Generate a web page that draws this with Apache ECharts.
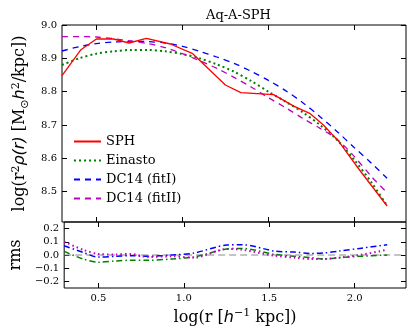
<!DOCTYPE html>
<html><head><meta charset="utf-8">
<script src="https://cdn.jsdelivr.net/npm/echarts@6.0.0/dist/echarts.min.js"></script>
<style>html,body{margin:0;padding:0;background:#fff;}#c{width:415px;height:336px;}</style>
</head><body><div id="c"></div>
<script>
// ---- data ----
const sphX = [0.30,0.41,0.50,0.60,0.69,0.79,0.93,1.06,1.25,1.34,1.53,1.65,1.74,1.82,1.91,2.03,2.19];
const sphY = [8.848,8.926,8.958,8.958,8.946,8.960,8.943,8.914,8.820,8.797,8.791,8.756,8.735,8.700,8.650,8.565,8.457];

const fitX = [0.30,0.40,0.50,0.60,0.70,0.80,0.90,1.00,1.10,1.20,1.30,1.40,1.50,1.60,1.70,1.80,1.90,2.00,2.10,2.19];
const einastoY = [8.880,8.900,8.914,8.921,8.925,8.925,8.921,8.913,8.900,8.882,8.860,8.832,8.800,8.770,8.738,8.700,8.655,8.595,8.527,8.458];
const dc14IY   = [8.922,8.935,8.944,8.949,8.951,8.950,8.946,8.936,8.921,8.904,8.885,8.861,8.834,8.803,8.767,8.725,8.680,8.632,8.585,8.540];
const dc14IIY  = [8.965,8.965,8.964,8.959,8.952,8.944,8.932,8.914,8.893,8.870,8.843,8.814,8.782,8.752,8.720,8.690,8.657,8.605,8.545,8.497];

const rmsX = [0.30,0.41,0.50,0.60,0.69,0.79,0.93,1.06,1.25,1.34,1.53,1.65,1.74,1.82,1.91,2.03,2.19];
const rmsEinasto = [0.027,-0.030,-0.055,-0.045,-0.040,-0.040,-0.030,-0.015,0.045,0.050,0.005,-0.010,-0.020,-0.030,-0.020,-0.010,0.000];
const rmsDC14I   = [0.070,0.020,-0.016,-0.010,-0.005,-0.010,0.000,0.015,0.075,0.078,0.030,0.022,0.012,0.015,0.030,0.050,0.078];
const rmsDC14II  = [0.100,0.040,0.008,0.004,0.008,-0.015,-0.010,-0.020,0.045,0.040,-0.005,-0.020,-0.030,-0.030,-0.020,0.000,0.040];

const xTicks = [0.5,1.0,1.5,2.0];
const yTicksTop = [8.5,8.6,8.7,8.8,8.9,9.0];
const yTicksBottom = [-0.2,-0.1,0.0,0.1,0.2];
const seriesNames = ['SPH','Einasto','DC14 (fitI)','DC14 (fitII)'];

// ---- chart ----
const pair = (xs, ys) => xs.map((x, i) => [x, ys[i]]);
const SERIF = 'DejaVu Serif';
const fmt = v => (v < 0 ? '\u2212' : '') + Math.abs(v).toFixed(1);

function xAx(grid, pos, showLabels, extra) {
  return Object.assign({
    type: 'value', gridIndex: grid, position: pos, min: 0.3, max: 2.3,
    axisLine: {show: false, onZero: false}, splitLine: {show: false},
    axisTick: {show: true, inside: true, length: 5, customValues: xTicks, lineStyle: {color: '#000', width: 1}},
    axisLabel: {show: showLabels, customValues: xTicks, formatter: fmt, fontFamily: SERIF, fontSize: 10, color: '#000', margin: 5}
  }, extra || {});
}
function yAx(grid, pos, min, max, ticks, showLabels, extra) {
  return Object.assign({
    type: 'value', gridIndex: grid, position: pos, min: min, max: max,
    axisLine: {show: false, onZero: false}, splitLine: {show: false},
    axisTick: {show: true, inside: true, length: 5, customValues: ticks, lineStyle: {color: '#000', width: 1}},
    axisLabel: {show: showLabels, customValues: ticks, formatter: fmt, fontFamily: SERIF, fontSize: 10, color: '#000', margin: 5}
  }, extra || {});
}

const richBase = {
  n: {fontFamily: SERIF, fontSize: 16, color: '#000', lineHeight: 20},
  i: {fontFamily: 'DejaVu Sans', fontStyle: 'italic', fontSize: 16, color: '#000', lineHeight: 20},
  sup: {fontFamily: SERIF, fontSize: 11, color: '#000', lineHeight: 10, verticalAlign: 'top'},
  sub: {fontFamily: 'DejaVu Sans', fontSize: 11, color: '#000', lineHeight: 10, verticalAlign: 'bottom'}
};

const chart = echarts.init(document.getElementById('c'), null, {renderer: 'canvas', width: 415, height: 336});
chart.setOption({
  animation: false,
  backgroundColor: '#fff',
  title: {text: 'Aq-A-SPH', left: 201, top: 4, textStyle: {fontFamily: SERIF, fontSize: 13, fontWeight: 'normal', color: '#000'}},
  grid: [
    {left: 62, top: 25, width: 344, height: 197, show: true, borderColor: '#000', borderWidth: 1, backgroundColor: 'transparent'},
    {left: 62, top: 222, width: 344, height: 66, show: true, borderColor: '#000', borderWidth: 1, backgroundColor: 'transparent'}
  ],
  xAxis: [
    xAx(0, 'bottom', false),
    xAx(0, 'top', false),
    xAx(1, 'bottom', true, {
      name: '{n|log(r [}{i|h}{sup|\u22121}{n| kpc])}', nameLocation: 'middle', nameGap: 20,
      nameTextStyle: {rich: richBase}
    }),
    xAx(1, 'top', false)
  ],
  yAxis: [
    yAx(0, 'left', 8.409, 9.0, yTicksTop, true, {
      name: '{n|log(r}{sup|2}{i|\u03c1(r)}{n| [M}{sub|\u2299}{i|h}{sup|2}{n|/kpc])}',
      nameLocation: 'middle', nameGap: 24, nameRotate: 90,
      nameTextStyle: {rich: richBase}
    }),
    yAx(0, 'right', 8.409, 9.0, yTicksTop, false),
    yAx(1, 'left', -0.25, 0.25, yTicksBottom, true, {
      name: 'rms', nameLocation: 'middle', nameGap: 37, nameRotate: 90,
      nameTextStyle: {fontFamily: SERIF, fontSize: 16, color: '#000'}
    }),
    yAx(1, 'right', -0.25, 0.25, yTicksBottom, false)
  ],
  legend: {
    data: seriesNames, orient: 'vertical', left: 73, top: 135, padding: 0,
    itemWidth: 27, itemHeight: 14, itemGap: 6, selectedMode: false,
    itemStyle: {opacity: 0, borderWidth: 0},
    textStyle: {fontFamily: SERIF, fontSize: 13, color: '#000'}
  },
  series: [
    {name: 'zero', type: 'line', xAxisIndex: 2, yAxisIndex: 2, data: [[0.3, 0], [2.3, 0]], symbol: 'none', z: 1,
     lineStyle: {color: '#888', width: 1, type: [7, 4]}},
    {name: seriesNames[0], type: 'line', xAxisIndex: 0, yAxisIndex: 0, data: pair(sphX, sphY), symbol: 'none', z: 5,
     lineStyle: {color: '#ff0000', width: 1.3}, itemStyle: {color: '#ff0000'}},
    {name: seriesNames[1], type: 'line', xAxisIndex: 0, yAxisIndex: 0, data: pair(fitX, einastoY), symbol: 'none', smooth: 0.3,
     lineStyle: {color: '#008000', width: 2, type: [2, 3]}, itemStyle: {color: '#008000'}},
    {name: seriesNames[2], type: 'line', xAxisIndex: 0, yAxisIndex: 0, data: pair(fitX, dc14IY), symbol: 'none', smooth: 0.3,
     lineStyle: {color: '#0000ff', width: 1.3, type: [6, 5]}, itemStyle: {color: '#0000ff'}},
    {name: seriesNames[3], type: 'line', xAxisIndex: 0, yAxisIndex: 0, data: pair(fitX, dc14IIY), symbol: 'none', smooth: 0.3,
     lineStyle: {color: '#bf00bf', width: 1.3, type: [6, 5]}, itemStyle: {color: '#bf00bf'}},
    {name: 'rms Einasto', type: 'line', xAxisIndex: 2, yAxisIndex: 2, data: pair(rmsX, rmsEinasto), symbol: 'none', smooth: 0.3,
     lineStyle: {color: '#008000', width: 1.5, type: [6, 3, 1.5, 3]}},
    {name: 'rms DC14 (fitI)', type: 'line', xAxisIndex: 2, yAxisIndex: 2, data: pair(rmsX, rmsDC14I), symbol: 'none', smooth: 0.3,
     lineStyle: {color: '#0000ff', width: 1.5, type: [6, 3, 1.5, 3]}},
    {name: 'rms DC14 (fitII)', type: 'line', xAxisIndex: 2, yAxisIndex: 2, data: pair(rmsX, rmsDC14II), symbol: 'none', smooth: 0.3,
     lineStyle: {color: '#bf00bf', width: 2, type: [1.5, 3]}}
  ]
});
</script>
</body></html>
